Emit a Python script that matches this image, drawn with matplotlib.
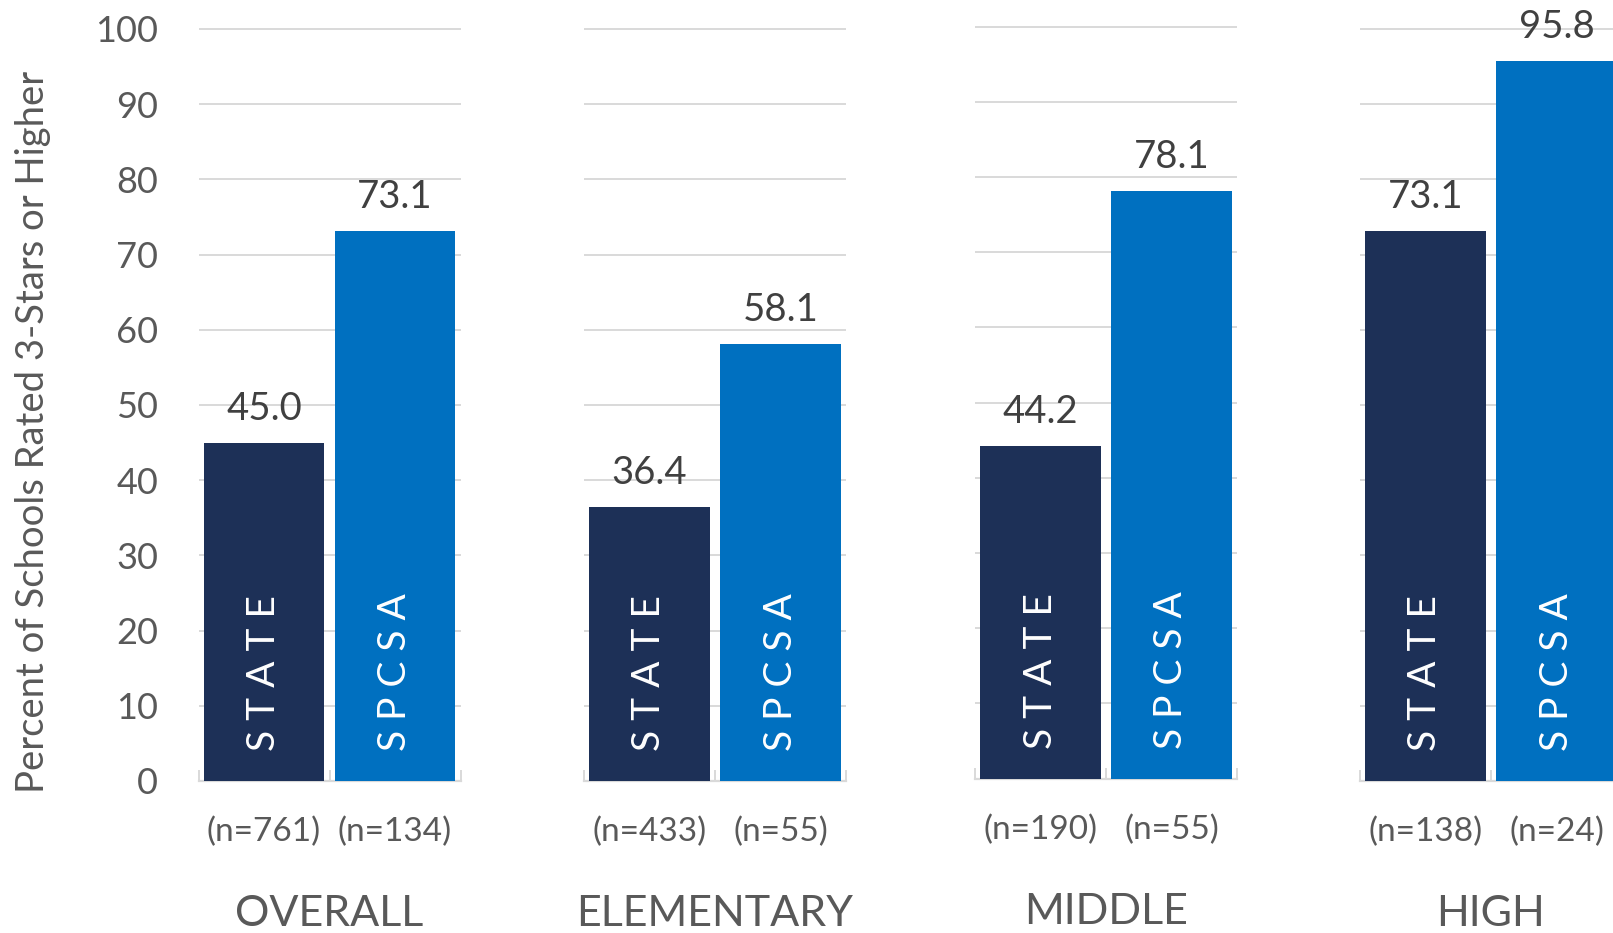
import matplotlib
matplotlib.use("Agg")
import matplotlib.pyplot as plt

plt.rcParams["font.family"] = ["Lato", "DejaVu Sans"]

# data
groups = ["OVERALL", "ELEMENTARY", "MIDDLE", "HIGH"]
series = ["STATE", "SPCSA"]
state_pct = [45.0, 36.4, 44.2, 73.1]
spcsa_pct = [73.1, 58.1, 78.1, 95.8]
state_n = [761, 433, 190, 138]
spcsa_n = [134, 55, 55, 24]
yticks = list(range(0, 101, 10))

NAVY = "#1d3057"
BLUE = "#0070c0"
GRID = "#d9d9d9"
TICK_TXT = "#595959"
VAL_TXT = "#404040"

W, H, DPI = 1613, 933, 100
fig = plt.figure(figsize=(W / DPI, H / DPI), dpi=DPI)

# panel placement in pixels (left edge, y of zero line)
panel_left = [198.5, 584, 975, 1360]
panel_zero = [781, 781, 778.5, 781]
panel_w = 262
panel_h = 752

for i, grp in enumerate(groups):
    left = panel_left[i] / W
    bottom = (H - panel_zero[i]) / H
    ax = fig.add_axes([left, bottom, panel_w / W, panel_h / H])
    vals = [state_pct[i], spcsa_pct[i]]
    ns = [state_n[i], spcsa_n[i]]
    xs = [0, 1]
    ax.bar(xs, vals, width=0.92, color=[NAVY, BLUE], zorder=3)
    ax.set_xlim(-0.5, 1.5)
    ax.set_ylim(0, 100)

    # gridlines
    ax.hlines(yticks[1:], -0.5, 1.5, colors=GRID, lw=1.4, zorder=1, clip_on=False)

    for s in ("top", "right", "left"):
        ax.spines[s].set_visible(False)
    ax.spines["bottom"].set_color(GRID)
    ax.spines["bottom"].set_linewidth(1.6)

    # category separators on baseline
    ax.set_xticks([-0.5, 0.5, 1.5])
    ax.set_xticklabels([])
    ax.tick_params(axis="x", direction="in", length=8, width=1.4, color=GRID)

    if i == 0:
        ax.set_yticks(yticks)
        ax.tick_params(axis="y", length=0, pad=29, labelsize=26, labelcolor=TICK_TXT)
    else:
        ax.set_yticks([])

    for x, v, name, n in zip(xs, vals, series, ns):
        ax.annotate(f"{v:.1f}", (x, v), xytext=(0, 16.5), textcoords="offset points",
                    ha="center", va="baseline", fontsize=27.5, color=VAL_TXT,
                    annotation_clip=False)
        ax.annotate(" ".join(name), (x, 0), xytext=(0, 21.5), textcoords="offset points",
                    rotation=90, rotation_mode="anchor", ha="left", va="center",
                    fontsize=28, color="white", zorder=4)
        ax.annotate(f"(n={n})", (x, 0), xytext=(0, -37), textcoords="offset points",
                    ha="center", va="center", fontsize=24, color=TICK_TXT,
                    annotation_clip=False)

    ax.annotate(grp, (0.5, 0), xycoords="axes fraction", xytext=(0, -96),
                textcoords="offset points", ha="center", va="center",
                fontsize=31, color=TICK_TXT, annotation_clip=False)

fig.text(33 / W, 1 - 432 / H, "Percent of Schools Rated 3-Stars or Higher",
         rotation=90, ha="center", va="center", fontsize=27.5, color=TICK_TXT)

fig.savefig("out.png", dpi=DPI)
